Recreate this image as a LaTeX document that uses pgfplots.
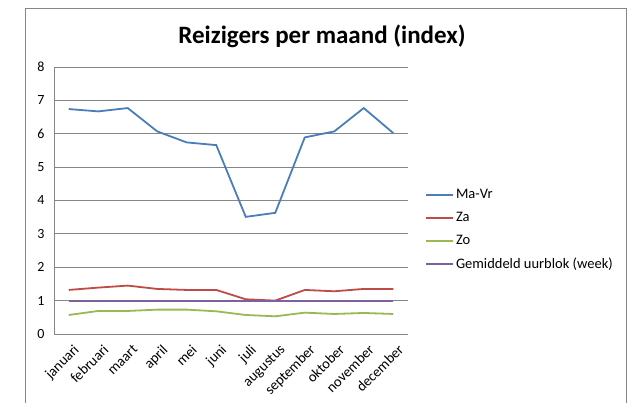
\documentclass[border=0pt]{standalone}
\usepackage{pgfplots}
\pgfplotsset{compat=1.18}
\usepackage{fontspec}
\setmainfont{Carlito}
\definecolor{cblue}{HTML}{4A7EBB}
\definecolor{cred}{HTML}{BE4B48}
\definecolor{cgreen}{HTML}{98B954}
\definecolor{cpurple}{HTML}{7D60A0}
\definecolor{cgrid}{HTML}{868686}
\begin{document}
\begin{tikzpicture}[x=1pt,y=1pt]
\useasboundingbox (0,0) rectangle (631,403);
\draw[cgrid, line width=1pt] (25,-10) -- (25,394) -- (626,394) -- (626,-10);
\node[font=\fontsize{25}{28}\selectfont\bfseries] at (322,367) {Reizigers per maand (index)};
\begin{axis}[
  at={(54pt,69pt)}, anchor=south west,
  scale only axis, width=354pt, height=267pt,
  xmin=-0.5, xmax=11.5, ymin=0, ymax=8,
  xtick={0,...,11},
  xticklabels={januari,februari,maart,april,mei,juni,juli,augustus,september,oktober,november,december},
  xticklabel style={xshift=4pt, yshift=-8pt, rotate=45, anchor=north east, inner sep=1pt, font=\fontsize{14.5}{16}\selectfont},
  ytick={0,...,8},
  ymajorgrids, grid style={cgrid, line width=0.8pt},
  axis x line*=bottom, axis y line*=left,
  axis line style={cgrid, line width=0.8pt, -},
  major tick length=0pt,
  tick label style={font=\fontsize{14}{16}\selectfont},
  /pgf/number format/assume math mode=true,
  yticklabel style={xshift=-6pt},
  every axis plot/.append style={line width=1.8pt, mark=none},
  legend style={at={(1,0.39)}, anchor=west, xshift=17pt, draw=none, fill=none,
    font=\fontsize{14.5}{16}\selectfont, row sep=8pt, inner sep=0pt},
  legend cell align=left,
  legend image code/.code={\draw[#1] (0pt,0pt) -- (27pt,0pt);},
]
\addplot[cblue] coordinates {(0,6.74)(1,6.67)(2,6.77)(3,6.07)(4,5.74)(5,5.66)(6,3.51)(7,3.63)(8,5.89)(9,6.07)(10,6.77)(11,6.02)};
\addlegendentry{Ma-Vr}
\addplot[cred] coordinates {(0,1.32)(1,1.39)(2,1.45)(3,1.35)(4,1.32)(5,1.32)(6,1.04)(7,1.00)(8,1.32)(9,1.28)(10,1.35)(11,1.35)};
\addlegendentry{Za}
\addplot[cgreen] coordinates {(0,0.57)(1,0.69)(2,0.69)(3,0.73)(4,0.73)(5,0.68)(6,0.57)(7,0.53)(8,0.64)(9,0.60)(10,0.63)(11,0.60)};
\addlegendentry{Zo}
\addplot[cpurple] coordinates {(0,1)(1,1)(2,1)(3,1)(4,1)(5,1)(6,1)(7,1)(8,1)(9,1)(10,1)(11,1)};
\addlegendentry{Gemiddeld uurblok (week)}
\end{axis}
\end{tikzpicture}
\end{document}
